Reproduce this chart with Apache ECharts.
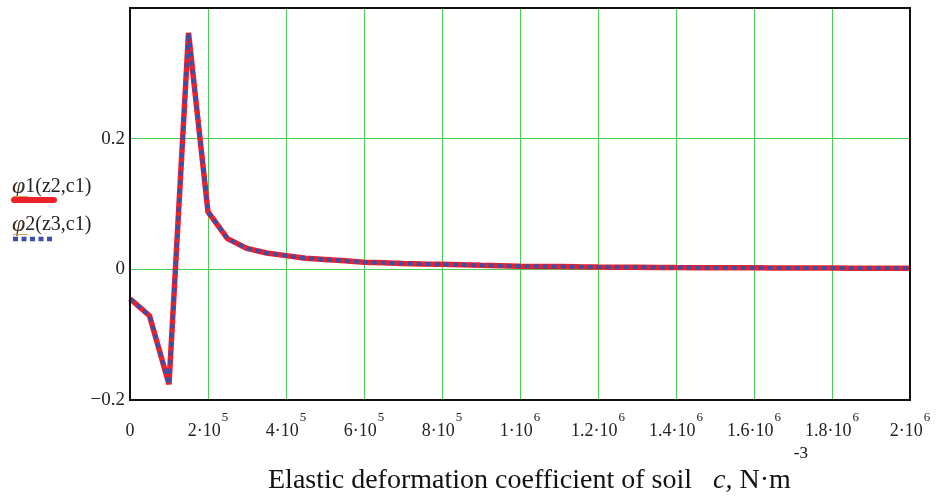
<!DOCTYPE html>
<html>
<head>
<meta charset="utf-8">
<script src="https://cdn.jsdelivr.net/npm/echarts@6/dist/echarts.min.js"></script>
<style>
  html, body { margin: 0; padding: 0; background: #fff; }
  #chart { width: 938px; height: 499px; }
</style>
</head>
<body>
<div id="chart"></div>
<script>
// soil coefficient c, N/m^3
const cValues = [
  0, 5e4, 1e5, 1.5e5, 2e5, 2.5e5, 3e5, 3.5e5, 4e5, 4.5e5,
  5e5, 5.5e5, 6e5, 6.5e5, 7e5, 7.5e5, 8e5, 8.5e5, 9e5, 9.5e5,
  1e6, 1.05e6, 1.1e6, 1.15e6, 1.2e6, 1.25e6, 1.3e6, 1.35e6, 1.4e6, 1.45e6,
  1.5e6, 1.55e6, 1.6e6, 1.65e6, 1.7e6, 1.75e6, 1.8e6, 1.85e6, 1.9e6, 1.95e6, 2e6
]
// phi1(z2,c1)
const phi1 = [
  -0.045, -0.071, -0.176, 0.362, 0.088, 0.047, 0.032, 0.025, 0.021, 0.017,
  0.015, 0.013, 0.011, 0.010, 0.009, 0.0083, 0.0077, 0.0070, 0.0062, 0.0055,
  0.0048, 0.0045, 0.0042, 0.0038, 0.0035, 0.0033, 0.0031, 0.0029, 0.0027, 0.0026,
  0.0025, 0.0024, 0.0023, 0.0022, 0.0021, 0.0020, 0.0019, 0.0018, 0.0017, 0.0016, 0.0015
]
// phi2(z3,c1) - lies on top of phi1
const phi2 = [
  -0.045, -0.071, -0.176, 0.362, 0.088, 0.047, 0.032, 0.025, 0.021, 0.017,
  0.015, 0.013, 0.011, 0.010, 0.009, 0.0083, 0.0077, 0.0070, 0.0062, 0.0055,
  0.0048, 0.0045, 0.0042, 0.0038, 0.0035, 0.0033, 0.0031, 0.0029, 0.0027, 0.0026,
  0.0025, 0.0024, 0.0023, 0.0022, 0.0021, 0.0020, 0.0019, 0.0018, 0.0017, 0.0016, 0.0015
]
const legendNames = ['1(z2,c1)', '2(z3,c1)']

const serif = '"Liberation Serif", "DejaVu Serif", serif'
const red = '#ee2029'
const blue = '#3c4ea8'
const green = '#4ccc55'

function xLabel (v) {
  if (v === 0) return '{a|0}'
  let exp = Math.floor(Math.log10(v) + 1e-9)
  let mant = +(v / Math.pow(10, exp)).toFixed(1)
  return '{a|' + mant + '·10}{sup|' + exp + '}'
}

let chart = echarts.init(document.getElementById('chart'))

chart.setOption({
  backgroundColor: '#fff',
  animation: false,
  grid: {
    left: 130,
    right: 28,
    top: 8,
    bottom: 99
  },
  xAxis: {
    type: 'value',
    min: 0,
    max: 2e6,
    interval: 2e5,
    axisLine: { show: false },
    axisTick: { show: false },
    splitLine: { show: true, lineStyle: { color: green, width: 1 } },
    axisLabel: {
      margin: 11,
      formatter: xLabel,
      color: '#222',
      rich: {
        a: { fontFamily: serif, fontSize: 18, color: '#222', lineHeight: 40, verticalAlign: 'middle' },
        sup: { fontFamily: serif, fontSize: 13, color: '#222', lineHeight: 13, verticalAlign: 'top', padding: [0, 0, 0, 1] }
      }
    }
  },
  yAxis: {
    type: 'value',
    min: -0.2,
    max: 0.4,
    interval: 0.2,
    axisLine: { show: false },
    axisTick: { show: false },
    splitLine: { show: true, lineStyle: { color: green, width: 1 } },
    axisLabel: {
      margin: 5,
      fontFamily: serif,
      fontSize: 19,
      color: '#222',
      formatter: function (v) {
        if (Math.abs(v - 0.4) < 1e-9) return ''
        if (Math.abs(v) < 1e-9) return '0'
        return (v < 0 ? '−' : '') + Math.abs(v).toFixed(1)
      }
    }
  },
  series: [
    {
      name: legendNames[0],
      type: 'line',
      data: cValues.map((c, i) => [c, phi1[i]]),
      showSymbol: false,
      lineStyle: { color: red, width: 5.5 },
      z: 3
    },
    {
      name: legendNames[1],
      type: 'line',
      data: cValues.map((c, i) => [c, phi2[i]]),
      showSymbol: false,
      lineStyle: { color: blue, width: 4, type: [5, 4], cap: 'butt' },
      z: 4
    }
  ],
  graphic: [
    // plot frame
    {
      type: 'rect', z: 100,
      shape: { x: 130, y: 8, width: 780, height: 392 },
      style: { fill: null, stroke: '#111', lineWidth: 2 }
    },
    {
      type: 'text', left: 12, top: 175,
      style: {
        text: '{p|φ}{t|' + legendNames[0] + '}',
        rich: {
          p: { fontFamily: serif, fontSize: 24, fontStyle: 'italic', fill: '#3a2a1a' },
          t: { fontFamily: serif, fontSize: 20, fill: '#222' }
        }
      }
    },
    { type: 'line', shape: { x1: 13, y1: 196.5, x2: 28, y2: 196.5 }, style: { stroke: '#d8a040', lineWidth: 1 } },
    { type: 'line', shape: { x1: 14, y1: 200, x2: 54, y2: 200 }, style: { stroke: red, lineWidth: 6, lineCap: 'round' } },
    {
      type: 'text', left: 12, top: 213,
      style: {
        text: '{p|φ}{t|' + legendNames[1] + '}',
        rich: {
          p: { fontFamily: serif, fontSize: 24, fontStyle: 'italic', fill: '#3a2a1a' },
          t: { fontFamily: serif, fontSize: 20, fill: '#222' }
        }
      }
    },
    { type: 'line', shape: { x1: 13, y1: 234.5, x2: 28, y2: 234.5 }, style: { stroke: '#d8a040', lineWidth: 1 } },
    { type: 'line', shape: { x1: 13, y1: 239, x2: 54, y2: 239 }, style: { stroke: blue, lineWidth: 4.5, lineDash: [5, 3.5] } },
    {
      type: 'text', left: 268, top: 445,
      style: {
        text: '{a|Elastic deformation coefficient of soil   }{i|c,}{a| N·m}{sup|-3}',
        rich: {
          a: { fontFamily: serif, fontSize: 28, fill: '#111', lineHeight: 71, verticalAlign: 'middle' },
          i: { fontFamily: serif, fontSize: 28, fontStyle: 'italic', fill: '#111', lineHeight: 71, verticalAlign: 'middle' },
          sup: { fontFamily: serif, fontSize: 17, fill: '#111', lineHeight: 17, verticalAlign: 'top', padding: [0, 0, 0, 3] }
        }
      }
    }
  ]
})
</script>
</body>
</html>
